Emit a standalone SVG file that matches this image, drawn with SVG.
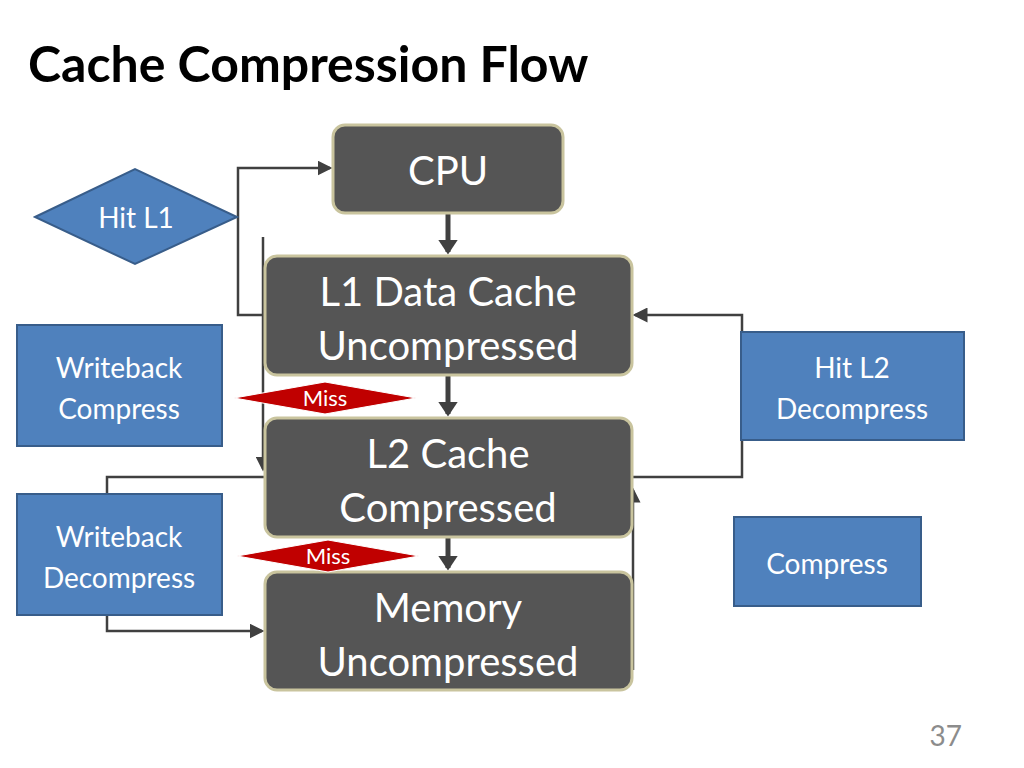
<svg xmlns="http://www.w3.org/2000/svg" width="1024" height="768" viewBox="0 0 1024 768">
<style>
.dk{fill:#555555;stroke:#c9c49e;stroke-width:3}
.bl{fill:#4f81bd;stroke:#385d8a;stroke-width:2}
.rd{fill:#c00000;stroke:#ffffff;stroke-width:1}
.t{font-family:Lato,"Liberation Sans",sans-serif;fill:#ffffff;text-anchor:middle}
.big{font-size:40px}
.mid{font-size:28px}
.ln{fill:none;stroke:#404040;stroke-width:2.5}
.th{fill:none;stroke:#404040;stroke-width:5}
</style>
<defs>
<marker id="a" markerWidth="6" markerHeight="6" refX="5" refY="3" orient="auto" markerUnits="strokeWidth"><path d="M0,0L6,3L0,6z" fill="#404040"/></marker>
<marker id="b" markerWidth="4" markerHeight="4" refX="2.5" refY="2" orient="auto" markerUnits="strokeWidth"><path d="M0,0L3,2L0,4z" fill="#404040"/></marker>
</defs>
<rect width="1024" height="768" fill="#ffffff"/>
<text x="28" y="82" font-family="Lato,'Liberation Sans',sans-serif" font-weight="bold" font-size="50" fill="#000">Cache Compression Flow</text>
<g id="connectors">
<line class="th" x1="448" y1="213" x2="448" y2="252" marker-end="url(#b)"/>
<line class="th" x1="448" y1="375" x2="448" y2="414" marker-end="url(#b)"/>
<line class="th" x1="448" y1="537" x2="448" y2="568" marker-end="url(#b)"/>
<polyline class="ln" points="265,315 238,315 238,168 330,168" marker-end="url(#a)"/>
<line class="ln" x1="263" y1="237" x2="263" y2="469" marker-end="url(#a)"/>
<polyline class="ln" points="632,477 742,477 742,315 635,315" marker-end="url(#a)"/>
<polyline class="ln" points="265,477 107,477 107,494"/>
<polyline class="ln" points="107,615 107,631 262,631" marker-end="url(#a)"/>
<line class="ln" x1="633" y1="670" x2="633" y2="490" marker-end="url(#a)"/>
</g>
<g id="cpu"><rect class="dk" x="333" y="125" width="230" height="88" rx="12"/><text class="t big" x="448" y="185">CPU</text></g>
<g id="l1"><rect class="dk" x="265" y="256" width="367" height="119" rx="12"/><text class="t big" x="448" y="306">L1 Data Cache</text><text class="t big" x="448" y="360">Uncompressed</text></g>
<g id="l2"><rect class="dk" x="265" y="418" width="367" height="119" rx="12"/><text class="t big" x="448" y="468">L2 Cache</text><text class="t big" x="448" y="522">Compressed</text></g>
<g id="mem"><rect class="dk" x="265" y="572" width="367" height="118" rx="12"/><text class="t big" x="448" y="622">Memory</text><text class="t big" x="448" y="676">Uncompressed</text></g>
<g id="hitl1"><polygon class="bl" points="35,217 135,169 237,217 135,264"/><text class="t mid" x="136" y="228">Hit L1</text></g>
<g id="wbc"><rect class="bl" x="17" y="325" width="205" height="121"/><text class="t mid" x="119" y="378">Writeback</text><text class="t mid" x="119" y="419">Compress</text></g>
<g id="wbd"><rect class="bl" x="17" y="494" width="205" height="121"/><text class="t mid" x="119" y="547">Writeback</text><text class="t mid" x="119" y="588">Decompress</text></g>
<g id="hitl2"><rect class="bl" x="741" y="332" width="223" height="108"/><text class="t mid" x="852" y="378">Hit L2</text><text class="t mid" x="852" y="419">Decompress</text></g>
<g id="comp"><rect class="bl" x="734" y="517" width="187" height="89"/><text class="t mid" x="827" y="574">Compress</text></g>
<g id="miss1"><polygon class="rd" points="234,398 325,382 416,398 325,414"/><text class="t" font-size="22" x="325" y="406">Miss</text></g>
<g id="miss2"><polygon class="rd" points="237,556 328,540 419,556 328,572"/><text class="t" font-size="22" x="328" y="564">Miss</text></g>
<text x="962" y="746" font-family="Lato,'Liberation Sans',sans-serif" font-size="28" fill="#8c8c8c" text-anchor="end">37</text>
</svg>
